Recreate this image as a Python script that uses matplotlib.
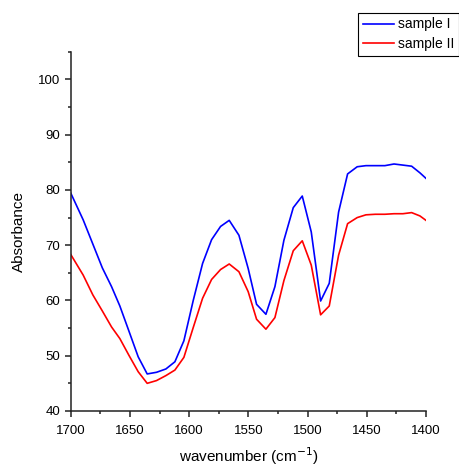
import numpy as np
import matplotlib
matplotlib.use("Agg")
import matplotlib.pyplot as plt
from matplotlib.ticker import MultipleLocator

plt.rcParams['font.family'] = ['Liberation Sans', 'DejaVu Sans']

# wavenumber (cm-1)
wn = [1700, 1689.6, 1681.4, 1673.4, 1665.6, 1658.6, 1651.0, 1643.1, 1635.5, 1627.6,
      1619.7, 1612.1, 1604.5, 1596.6, 1588.7, 1581.1, 1573.5, 1566.2, 1558.0, 1550.2,
      1543.1, 1535.2, 1527.6, 1520.0, 1512.1, 1504.5, 1496.9, 1489.0, 1481.7, 1473.8,
      1466.2, 1458.1, 1450.7, 1442.7, 1434.7, 1427.0, 1419.5, 1412.1, 1405.1, 1400]

sample1 = [79.4, 74.6, 70.2, 65.9, 62.5, 59.0, 54.5, 49.8, 46.7, 47.0,
           47.6, 48.9, 52.7, 60.0, 66.7, 71.0, 73.4, 74.5, 71.8, 65.8,
           59.3, 57.5, 62.5, 70.9, 76.8, 78.9, 72.4, 59.9, 63.1, 76.0,
           82.9, 84.2, 84.4, 84.4, 84.4, 84.7, 84.5, 84.3, 83.1, 82.1]

sample2 = [68.3, 64.6, 61.0, 58.1, 55.2, 53.1, 50.1, 47.1, 45.0, 45.5,
           46.4, 47.4, 49.7, 55.1, 60.4, 63.8, 65.6, 66.6, 65.2, 61.6,
           56.6, 54.8, 56.9, 63.6, 69.0, 70.8, 66.4, 57.4, 59.0, 68.2,
           73.9, 75.0, 75.5, 75.6, 75.6, 75.7, 75.7, 75.9, 75.3, 74.5]

fig = plt.figure(figsize=(4.6, 4.67), dpi=100)
ax = fig.add_axes([0.154, 0.12, 0.772, 0.769])

ax.plot(wn, sample1, color='#0000ff', lw=1.2, label='sample I')
ax.plot(wn, sample2, color='#ff0000', lw=1.2, label='sample II')

ax.set_xlim(1700, 1400)
ax.set_ylim(40, 105)
ax.xaxis.set_major_locator(MultipleLocator(50))
ax.xaxis.set_minor_locator(MultipleLocator(25))
ax.yaxis.set_major_locator(MultipleLocator(10))
ax.yaxis.set_minor_locator(MultipleLocator(5))
ax.set_yticks([40, 50, 60, 70, 80, 90, 100])

for s in ['top', 'right']:
    ax.spines[s].set_visible(False)
for s in ['left', 'bottom']:
    ax.spines[s].set_color('#222222')
    ax.spines[s].set_linewidth(1.1)

ax.tick_params(which='major', direction='out', length=4, width=1.1, colors='#222222',
               labelsize=9.5, labelcolor='black')
ax.tick_params(axis='x', which='major', pad=6)
ax.tick_params(which='minor', direction='out', length=2.5, width=1.1, colors='#222222')

ax.set_xlabel('wavenumber (cm$^{-1}$)', fontsize=11, labelpad=6)
ax.set_ylabel('Absorbance', fontsize=11, labelpad=9)

leg = fig.legend(loc='upper right', bbox_to_anchor=(0.998, 0.973), fontsize=10,
                 frameon=True, fancybox=False, edgecolor='black', framealpha=1,
                 handlelength=2.2, handletextpad=0.3, borderpad=0.35,
                 labelspacing=0.4, borderaxespad=0)
leg.get_frame().set_linewidth(0.8)

fig.savefig('out.png', dpi=100)
